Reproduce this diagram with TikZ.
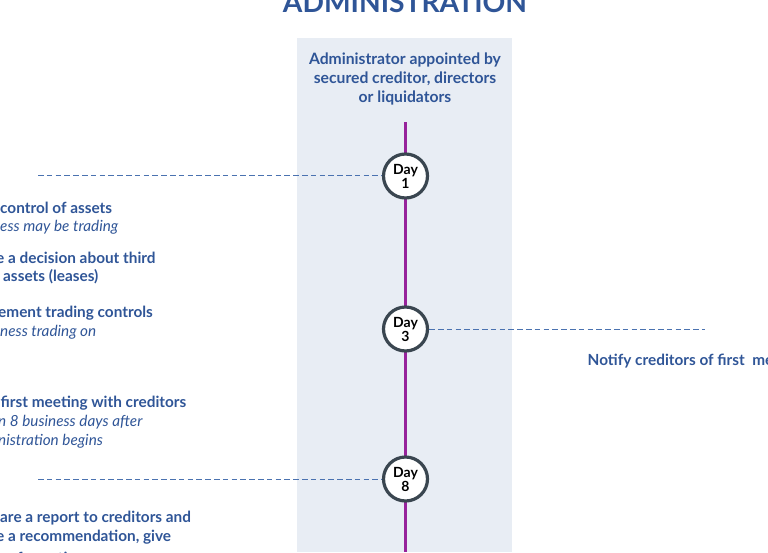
\documentclass[tikz,border=0pt]{standalone}
\usepackage{fontspec}
\setmainfont{Lato}
\definecolor{panelblue}{HTML}{E8EDF4}
\definecolor{textblue}{HTML}{2F5597}
\definecolor{dashblue}{HTML}{4A72B0}
\definecolor{linepurple}{HTML}{97239B}
\definecolor{ringgrey}{HTML}{3A4650}
\tikzset{day/.style={circle,draw=ringgrey,line width=3.2pt,fill=white,minimum size=44pt,inner sep=0pt,align=center,
font=\fontsize{14}{14}\selectfont\bfseries,text=black},
lefttext/.style={anchor=west,inner sep=0pt,text=textblue,font=\fontsize{15.35}{19}\selectfont\bfseries},
subtext/.style={anchor=west,inner sep=0pt,text=textblue,font=\fontsize{15.3}{19}\selectfont\itshape},
headtext/.style={inner sep=0pt,align=center,text=textblue,font=\fontsize{15.7}{19}\selectfont\bfseries},
title/.style={inner sep=0pt,text=textblue,font=\fontsize{28.2}{28}\selectfont\bfseries},
leader/.style={dashblue,line width=0.9pt,dash pattern=on 5.6pt off 3.2pt}}

\begin{document}
\begin{tikzpicture}[x=1pt,y=-1pt]
\useasboundingbox (0,0) rectangle (768,552);
\clip (0,0) rectangle (768,552);

%% panel
\fill [panelblue] (297,38) rectangle (512,552);

%% coordinates of the time line
\coordinate (top) at (405,122);
\coordinate (bottom) at (405,552);
\coordinate (end1) at (38,175.5);
\coordinate (end3) at (705,329);
\coordinate (end8) at (38,479);

%% heading
\node [title] (head) at (405,2.5) {ADMINISTRATION};
\node [headtext] (appointed) at (405,78.5) {Administrator appointed by\\secured creditor, directors\\or liquidators};

%% days
\draw [linepurple,line width=3pt] (top) -- (bottom);
\node [day] (day1) at (405.5,176) {Day\\1};
\node [day] (day3) at (405.5,329) {Day\\3};
\node [day] (day8) at (405.5,479) {Day\\8};

%% dashed lines
\draw [leader] (end1) -- (end1 -| day1.west);
\draw [leader] (day3.east |- end3) -- (end3);
\draw [leader] (end8) -- (day8);

%% left texts
\node [lefttext] (control) at (0,207.5) {control of assets};
\node [subtext] (trading) at (0,227.2) {ess may be trading};
\node [lefttext] (decision) at (-4,257.5) {e a decision about third};
\node [lefttext] (leases) at (3,276.7) {assets (leases)};
\node [lefttext] (controls) at (-2,312.9) {ement trading controls};
\node [subtext] (tradingon) at (0,332) {ness trading on};
\node [lefttext] (meeting) at (0.5,402.9) {first meeting with creditors};
\node [subtext] (days) at (-2,421.9) {n 8 business days after};
\node [subtext] (begins) at (-2,440.9) {nistration begins};
\node [lefttext] (report) at (0,517.7) {are a report to creditors and};
\node [lefttext] (give) at (-4,536.7) {e a recommendation, give};
\node [lefttext] (formation) at (17,558) {formation};

%% right text
\node [lefttext] (notify) at (587.5,361.5) {Notify creditors of first\ \ me};
\end{tikzpicture}
\end{document}
